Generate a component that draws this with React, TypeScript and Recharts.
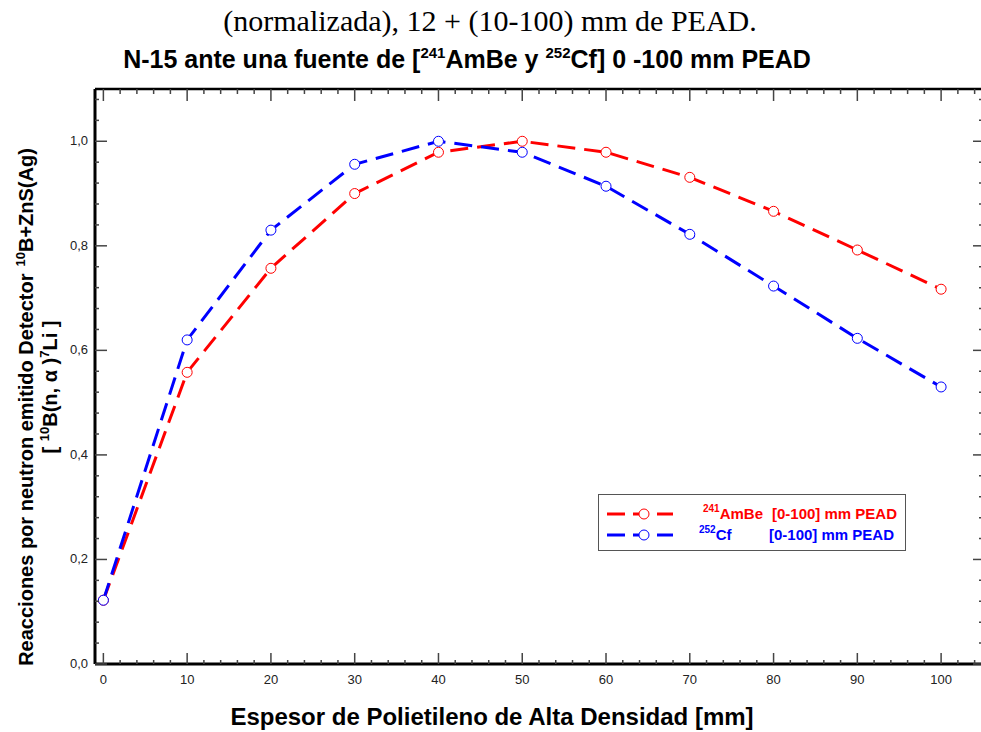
import { LineChart, Line, XAxis, YAxis, Legend } from 'recharts';

// espesor de polietileno [mm]
const espesor = [0, 10, 20, 30, 40, 50, 60, 70, 80, 90, 100];
const ambe = [0.122, 0.558, 0.757, 0.9, 0.979, 1.0, 0.979, 0.931, 0.866, 0.792, 0.717];
const cf = [0.122, 0.62, 0.83, 0.956, 1.0, 0.979, 0.914, 0.822, 0.723, 0.623, 0.53];

const xMajor = [0, 10, 20, 30, 40, 50, 60, 70, 80, 90, 100];
const yMajor = [0, 0.2, 0.4, 0.6, 0.8, 1.0];
const xTicks = Array.from({ length: 53 }, (_, i) => i * 2);
const yTicks = Array.from({ length: 28 }, (_, i) => Math.round(i * 4) / 100);

const data = espesor.map((x, i) => ({ x, ambe: ambe[i], cf: cf[i] }));

const RED = '#ff0000';
const BLUE = '#0000ff';
const TICK = '#444';
const FONT = 'Arial, "Liberation Sans", Helvetica, sans-serif';

const isMajorX = (v: number) => xMajor.includes(v);
const isMajorY = (v: number) => yMajor.some((m) => Math.abs(m - v) < 1e-6);

const BottomTick = (props: any) => {
  const { x, y, payload } = props;
  const major = isMajorX(payload.value);
  return (
    <g>
      <line x1={x} x2={x} y1={y} y2={y - (major ? 11 : 4)} stroke={TICK} strokeWidth={1.5} />
      {major && (
        <text x={x} y={y + 20} textAnchor="middle" fontSize={13} fontFamily={FONT} fill="#222">
          {payload.value}
        </text>
      )}
    </g>
  );
};

const TopTick = (props: any) => {
  const { x, y, payload } = props;
  const major = isMajorX(payload.value);
  return <line x1={x} x2={x} y1={y} y2={y + (major ? 12 : 5)} stroke={TICK} strokeWidth={1.5} />;
};

const LeftTick = (props: any) => {
  const { x, y, payload } = props;
  const major = isMajorY(payload.value);
  return (
    <g>
      <line x1={x} x2={x + (major ? 12 : 4)} y1={y} y2={y} stroke={TICK} strokeWidth={1.5} />
      {major && (
        <text x={x - 7} y={y + 4} textAnchor="end" fontSize={13} fontFamily={FONT} fill="#222">
          {payload.value.toFixed(1).replace('.', ',')}
        </text>
      )}
    </g>
  );
};

const RightTick = (props: any) => {
  const { x, y, payload } = props;
  const major = isMajorY(payload.value);
  return <line x1={x} x2={x - (major ? 10 : 4)} y1={y} y2={y} stroke={TICK} strokeWidth={1.5} />;
};

const Sample = ({ color }: { color: string }) => (
  <svg width={70} height={12} style={{ display: 'block' }}>
    <line x1={0} x2={18} y1={6} y2={6} stroke={color} strokeWidth={3} />
    <line x1={26} x2={32} y1={6} y2={6} stroke={color} strokeWidth={3} />
    <circle cx={37} cy={6} r={5} fill="#fff" stroke={color} strokeWidth={1} />
    <line x1={50} x2={66} y1={6} y2={6} stroke={color} strokeWidth={3} />
  </svg>
);

const supStyle: React.CSSProperties = { fontSize: 10, verticalAlign: 7, lineHeight: 0 };

const LegendBox = () => (
  <div
    style={{
      width: 308,
      height: 57,
      border: '1px solid #555',
      background: '#fff',
      fontFamily: FONT,
      fontWeight: 'bold',
      fontSize: 15,
      lineHeight: '17px',
      boxSizing: 'border-box',
      position: 'relative',
    }}
  >
    <div style={{ position: 'absolute', left: 8, top: 13 }}>
      <Sample color={RED} />
    </div>
    <div style={{ position: 'absolute', left: 104, top: 10, color: RED, whiteSpace: 'nowrap' }}>
      <span style={supStyle}>241</span>AmBe
    </div>
    <div style={{ position: 'absolute', left: 173, top: 10, color: RED, whiteSpace: 'nowrap' }}>
      [0-100] mm PEAD
    </div>
    <div style={{ position: 'absolute', left: 8, top: 34 }}>
      <Sample color={BLUE} />
    </div>
    <div style={{ position: 'absolute', left: 100, top: 31, color: BLUE, whiteSpace: 'nowrap' }}>
      <span style={supStyle}>252</span>Cf
    </div>
    <div style={{ position: 'absolute', left: 170, top: 31, color: BLUE, whiteSpace: 'nowrap' }}>
      [0-100] mm PEAD
    </div>
  </div>
);

export default function App() {
  return (
    <div style={{ position: 'absolute', left: 0, top: 0, width: 981, height: 732, overflow: 'hidden', background: '#fff' }}>
      <LineChart width={990} height={732} data={data} margin={{ top: 88, right: 6, bottom: 38, left: 94 }}>
        <XAxis
          dataKey="x"
          type="number"
          domain={[-1, 105]}
          ticks={xTicks}
          interval={0}
          height={30}
          tickSize={0}
          tickMargin={0}
          tickLine={false}
          tick={<BottomTick />}
          axisLine={{ stroke: '#000', strokeWidth: 3 }}
          allowDataOverflow
        />
        <XAxis
          xAxisId="top"
          orientation="top"
          dataKey="x"
          type="number"
          domain={[-1, 105]}
          ticks={xTicks}
          interval={0}
          height={1}
          tickSize={0}
          tickMargin={0}
          tickLine={false}
          tick={<TopTick />}
          axisLine={{ stroke: '#000', strokeWidth: 2.5 }}
          allowDataOverflow
        />
        <YAxis
          type="number"
          domain={[0, 1.1]}
          ticks={yTicks}
          interval={0}
          width={1}
          tickSize={0}
          tickMargin={0}
          tickLine={false}
          tick={<LeftTick />}
          axisLine={{ stroke: '#000', strokeWidth: 3 }}
          allowDataOverflow
        />
        <YAxis
          yAxisId="right"
          orientation="right"
          type="number"
          domain={[0, 1.1]}
          ticks={yTicks}
          interval={0}
          width={1}
          tickSize={0}
          tickMargin={0}
          tickLine={false}
          tick={<RightTick />}
          axisLine={{ stroke: '#000', strokeWidth: 3 }}
          allowDataOverflow
        />
        <Line
          type="linear"
          dataKey="ambe"
          stroke={RED}
          strokeWidth={3}
          strokeDasharray="18 9"
          dot={{ r: 5, fill: '#fff', stroke: RED, strokeWidth: 1, strokeDasharray: '0' }}
          isAnimationActive={false}
        />
        <Line
          type="linear"
          dataKey="cf"
          stroke={BLUE}
          strokeWidth={3}
          strokeDasharray="18 9"
          dot={{ r: 5, fill: '#fff', stroke: BLUE, strokeWidth: 1, strokeDasharray: '0' }}
          isAnimationActive={false}
        />
        <Legend
          layout="horizontal"
          verticalAlign="middle"
          align="center"
          content={() => <LegendBox />}
          wrapperStyle={{ left: 598, top: 494, width: 308, height: 57 }}
        />
      </LineChart>
      <svg width={981} height={732} style={{ position: 'absolute', left: 0, top: 0, pointerEvents: 'none' }}>
        <text x={490} y={31} textAnchor="middle" fontFamily='"Liberation Serif", "Times New Roman", serif' fontSize={30}>
          (normalizada), 12 + (10-100) mm de PEAD.
        </text>
        <text x={467} y={68} textAnchor="middle" fontFamily={FONT} fontWeight="bold" fontSize={25}>
          N-15 ante una fuente de [<tspan fontSize={15} dy={-10}>241</tspan>
          <tspan dy={10}>AmBe y </tspan>
          <tspan fontSize={15} dy={-10}>252</tspan>
          <tspan dy={10}>Cf] 0 -100 mm PEAD</tspan>
        </text>
        <text transform="translate(33, 407) rotate(-90)" textAnchor="middle" fontFamily={FONT} fontWeight="bold" fontSize={20}>
          Reacciones por neutron emitido Detector
          <tspan fontSize={13} dx={7} dy={-8}>10</tspan>
          <tspan dy={8}>B+ZnS(Ag)</tspan>
        </text>
        <text transform="translate(57, 387) rotate(-90)" textAnchor="middle" fontFamily={FONT} fontWeight="bold" fontSize={20}>
          [ <tspan fontSize={13} dy={-8}>10</tspan>
          <tspan dy={8}>B(n, α )</tspan>
          <tspan fontSize={13} dy={-8}>7</tspan>
          <tspan dy={8}>Li ]</tspan>
        </text>
        <text x={492} y={725} textAnchor="middle" fontFamily={FONT} fontWeight="bold" fontSize={24}>
          Espesor de Polietileno de Alta Densidad [mm]
        </text>
      </svg>
    </div>
  );
}
